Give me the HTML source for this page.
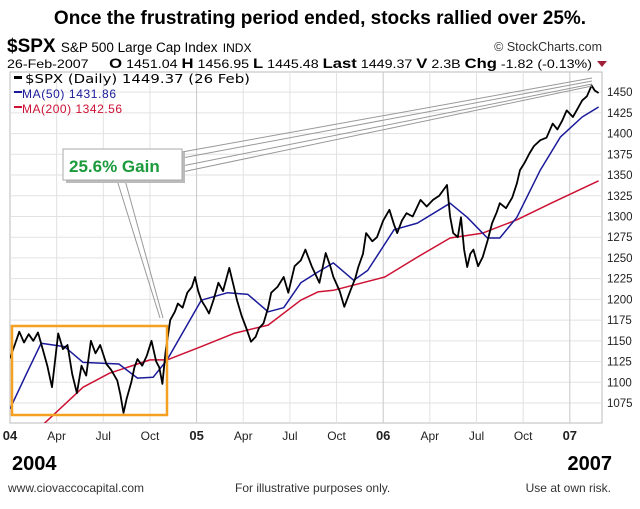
<!DOCTYPE html>
<html><head><meta charset="utf-8"><style>
body{margin:0;background:#fff;width:640px;height:509px;overflow:hidden;font-family:"Liberation Sans",sans-serif}
svg{display:block}
</style></head><body>
<svg id="c" width="640" height="509">
<text x="320" y="24" text-anchor="middle" font-size="19" font-weight="bold">Once the frustrating period ended, stocks rallied over 25%.</text>
<text x="7" y="52" font-size="19" font-weight="bold">$SPX <tspan font-size="13.5" font-weight="normal">S&amp;P 500 Large Cap Index</tspan> <tspan font-size="12" font-weight="normal">INDX</tspan></text>
<text x="602" y="51" text-anchor="end" font-size="12.5" fill="#333">© StockCharts.com</text>
<text x="7" y="68" font-size="12" textLength="585" lengthAdjust="spacingAndGlyphs">26-Feb-2007 <tspan dx="14" font-weight="bold" font-size="14">O</tspan> 1451.04 <tspan font-weight="bold" font-size="14">H</tspan> 1456.95 <tspan font-weight="bold" font-size="14">L</tspan> 1445.48 <tspan font-weight="bold" font-size="14">Last</tspan> 1449.37 <tspan font-weight="bold" font-size="14">V</tspan> 2.3B <tspan font-weight="bold" font-size="14">Chg</tspan> -1.82 (-0.13%)</text>
<path d="M597 61 L607 61 L602 67 Z" fill="#a0203a"/>
<g id="grid"></g>
<g id="series"></g>
<rect x="12" y="326" width="155" height="89" fill="none" stroke="#f5a020" stroke-width="2.5"/>
<g stroke="#999" stroke-width="1" fill="none">
<path d="M117 180 L160 318 M125 180 L163 318"/>
<path d="M182 152 L592 78 M182 158 L592 81 M182 166 L592 84 M182 172 L592 86"/>
</g>
<rect x="66" y="152" width="119" height="31" fill="#bbb"/>
<rect x="63" y="149" width="119" height="31" fill="#fff" stroke="#aaa"/>
<text x="69" y="172" font-size="17" font-weight="bold" fill="#1a9a3a">25.6% Gain</text>
<g font-family="'DejaVu Sans',sans-serif" font-size="12">
<rect x="14" y="76" width="8" height="3" fill="#000"/><text x="25" y="83" textLength="225" lengthAdjust="spacingAndGlyphs">$SPX (Daily) 1449.37 (26 Feb)</text>
<rect x="14" y="91" width="8" height="2" fill="#1a1a9a"/><text x="22" y="98" fill="#1a1a9a" font-family="'Liberation Sans',sans-serif" font-size="12" textLength="94">MA(50) 1431.86</text>
<rect x="14" y="106" width="8" height="2" fill="#cc1133"/><text x="22" y="113" fill="#cc1133" font-family="'Liberation Sans',sans-serif" font-size="12" textLength="100">MA(200) 1342.56</text>
</g>
<text x="12" y="470" font-size="20" font-weight="bold">2004</text>
<text x="612" y="470" text-anchor="end" font-size="20" font-weight="bold">2007</text>
<text x="8" y="492" font-size="12" fill="#333">www.ciovaccocapital.com</text>
<text x="235" y="492" font-size="12" fill="#333">For illustrative purposes only.</text>
<text x="611" y="492" text-anchor="end" font-size="12" fill="#333">Use at own risk.</text>
</svg>
<script>
const yTicks=[1075,1100,1125,1150,1175,1200,1225,1250,1275,1300,1325,1350,1375,1400,1425,1450];
const xTickMonths=[0,3,6,9,12,15,18,21,24,27,30,33,36];
const xTickLabels=['04','Apr','Jul','Oct','05','Apr','Jul','Oct','06','Apr','Jul','Oct','07'];
const priceT=[0,0.3,0.6,0.9,1.2,1.5,1.8,2.1,2.4,2.7,3.1,3.4,3.7,4.0,4.3,4.6,4.9,5.2,5.5,5.8,6.2,6.5,6.9,7.1,7.3,7.5,7.8,8.0,8.2,8.5,8.8,9.1,9.4,9.6,9.8,10.0,10.3,10.6,10.8,11.1,11.4,11.7,11.9,12.1,12.3,12.6,12.8,13.1,13.4,13.7,14.1,14.4,14.6,14.9,15.2,15.5,15.8,16.0,16.3,16.6,16.8,17.2,17.6,17.9,18.3,18.7,19.0,19.4,19.9,20.3,20.6,20.8,21.2,21.5,21.9,22.2,22.4,22.7,22.9,23.3,23.6,24.0,24.4,24.7,24.9,25.2,25.5,25.9,26.4,26.8,27.2,27.6,28.1,28.3,28.5,28.8,29.0,29.2,29.4,29.6,29.8,30.1,30.4,30.7,31.0,31.3,31.5,31.9,32.3,32.6,32.8,33.1,33.4,33.7,34.1,34.5,34.9,35.2,35.5,35.8,36.2,36.5,36.8,37.1,37.4,37.6,37.85];
const priceV=[1129,1145,1161,1148,1158,1150,1160,1140,1120,1094,1159,1140,1145,1110,1087,1120,1108,1150,1135,1145,1122,1115,1102,1085,1063,1080,1100,1118,1128,1120,1132,1150,1125,1118,1098,1136,1175,1185,1195,1190,1208,1215,1227,1210,1199,1190,1183,1200,1220,1210,1238,1215,1199,1180,1165,1149,1155,1165,1171,1190,1208,1215,1227,1208,1240,1247,1260,1240,1220,1256,1240,1227,1210,1191,1211,1225,1239,1255,1280,1270,1275,1295,1308,1290,1280,1295,1304,1300,1320,1312,1320,1325,1338,1300,1280,1275,1299,1260,1239,1255,1260,1240,1251,1270,1292,1305,1316,1310,1323,1340,1356,1365,1376,1385,1392,1395,1412,1405,1415,1428,1420,1430,1440,1445,1458,1452,1449];
const ma50T=[0,1,2,3.5,4.7,7,8.2,9.2,10.1,12.3,14,15.3,16.6,17.6,18.7,19.8,20.8,22.1,23,24.7,26.2,28.3,29.4,30.7,31.5,32.6,34.1,35.4,36.8,37.85];
const ma50V=[1068,1108,1147,1143,1124,1122,1105,1106,1127,1199,1208,1206,1185,1190,1220,1233,1244,1223,1235,1284,1292,1316,1299,1274,1274,1299,1356,1396,1420,1432];
const ma200T=[1.9,4.7,6.4,9,10.1,12.3,14.4,16.6,18.7,19.8,20.8,24.1,26.2,28.3,30.4,32.6,34.8,37.85];
const ma200V=[1045,1094,1111,1127,1127,1143,1159,1169,1199,1209,1211,1227,1251,1274,1280,1296,1316,1343];
const X0=10,XR=602,YT=72,YB=423;
const xs=t=>X0+t*15.55;
const ys=v=>403-(v-1075)*0.829;
const NS='http://www.w3.org/2000/svg';
function mk(tag,attrs,parent){const e=document.createElementNS(NS,tag);for(const k in attrs)e.setAttribute(k,attrs[k]);parent.appendChild(e);return e;}
const g=document.getElementById('grid');
const bg=mk('rect',{x:X0,y:YT,width:XR-X0,height:YB-YT,fill:'#fff',stroke:'#bbb'},g);


yTicks.forEach(v=>{
 const l=mk('line',{x1:X0,x2:XR,y1:ys(v),y2:ys(v),stroke:'#e2e2e2'},g);
 
 
 const t=mk('text',{x:607,y:ys(v)+4,'font-size':11.5,fill:'#222'},g);t.textContent=v;
 
 
});
xTickMonths.forEach((m,i)=>{
 const yr=m%12===0;
 if(m>0){const l=mk('line',{x1:xs(m),x2:xs(m),y1:YT,y2:YB,stroke:yr?'#c8c8c8':'#e2e2e2'},g);
 
 }
 const t=mk('text',{x:Math.max(xs(m),6),y:440,'font-size':yr?13:12,'font-weight':yr?'bold':'normal','text-anchor':'middle',fill:'#222'},g);
 t.textContent=xTickLabels[i];
 
 
});
const s=document.getElementById('series');
const clip=mk('clipPath',{id:'pc'},s);mk('rect',{x:X0,y:YT,width:XR-X0,height:YB-YT},clip);
function line(T,V,color,w,name){
 const d=T.map((t,i)=>(i?'L':'M')+xs(t).toFixed(1)+' '+ys(V[i]).toFixed(1)).join(' ');
 const p=mk('path',{d:d,fill:'none',stroke:color,'stroke-width':w,'clip-path':'url(#pc)','stroke-linejoin':'round'},s);
 
 
}
line(ma200T,ma200V,'#cc1133',1.5,'ma200-line');
line(ma50T,ma50V,'#1a1a9a',1.5,'ma50-line');
line(priceT,priceV,'#000',1.8,'price-line');
</script>
</body></html>
